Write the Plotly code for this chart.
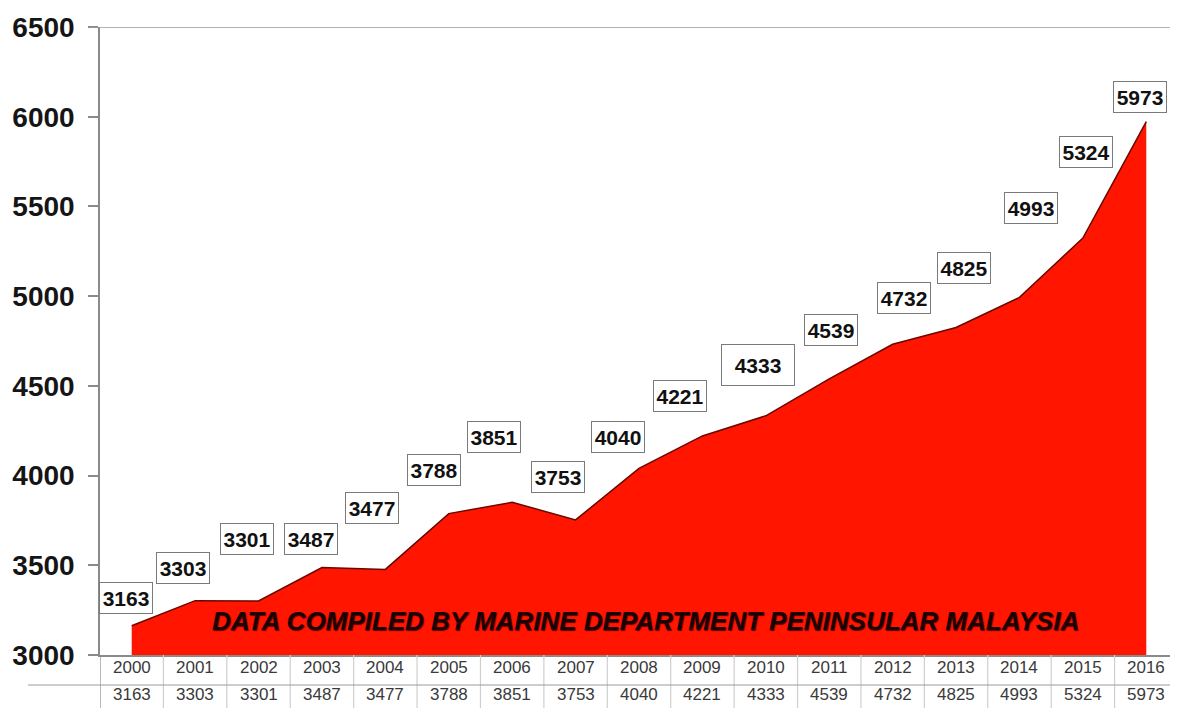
import plotly.graph_objects as go

years = [str(y) for y in range(2000, 2017)]
values = [3163, 3303, 3301, 3487, 3477, 3788, 3851, 3753, 4040, 4221,
          4333, 4539, 4732, 4825, 4993, 5324, 5973]
# label offsets (pixels) relative to each data point
label_dx = [-6, -12, -12, -11, -13, -15, -18, -18, -21, -22, -8, 2, 11, 8, 12, 3, -6]
label_dy = [28, 33, 62, 29, 61, 44, 65, 43, 31, 40, 51, 49, 46, 60, 89, 86, 25]
yticks = [3000, 3500, 4000, 4500, 5000, 5500, 6000, 6500]
note = "DATA COMPILED BY MARINE DEPARTMENT PENINSULAR MALAYSIA"

OFF = 8  # page body margin
W, H = 1178 - OFF, 708 - OFF
ML, MR, MT, MB = 100 - OFF, 0, 27 - OFF, 53
plot_h = H - MT - MB
plot_w = W - ML - MR
base_y = 655  # reference pixel of plot bottom

fig = go.Figure()
fig.add_trace(go.Scatter(
    x=list(range(len(years))), y=values, mode="lines",
    fill="tozeroy", fillcolor="#ff1500",
    line=dict(color="#6a0800", width=1.5),
    hoverinfo="skip", showlegend=False,
))

annotations = []
for i, v in enumerate(values):
    big = (v == 4333)
    annotations.append(dict(
        x=i, y=v, xref="x", yref="y", text=str(v), showarrow=False,
        xshift=label_dx[i], yshift=label_dy[i],
        font=dict(family="Liberation Sans, Arial", size=21, color="#111", weight="bold"),
        bgcolor="white", bordercolor="#7a7a7a", borderwidth=1, borderpad=1,
        width=70 if big else 50, height=38 if big else 28,
    ))

# data table text
row1_y = -(667 - base_y) / plot_h
row2_y = -(694 - base_y) / plot_h
for i, (yr, v) in enumerate(zip(years, values)):
    annotations.append(dict(x=i, y=row1_y, xref="x", yref="paper", text=yr,
                            showarrow=False, yanchor="middle",
                            font=dict(family="Liberation Sans, Arial", size=17, color="#3a3a3a")))
    annotations.append(dict(x=i, y=row2_y, xref="x", yref="paper", text=str(v),
                            showarrow=False, yanchor="middle",
                            font=dict(family="Liberation Sans, Arial", size=17, color="#3a3a3a")))

annotations.append(dict(
    x=(645 - 100) / plot_w, y=(base_y - 621) / plot_h, xref="paper", yref="paper",
    xanchor="center", yanchor="middle",
    text=note, showarrow=False,
    font=dict(family="Liberation Sans, Arial", size=26, color="#1a0202", weight="bold",
              style="italic", shadow="1px 1px 1px #5a0000"),
))

shapes = []
bottom = -MB / plot_h
for i in range(len(years) + 1):
    shapes.append(dict(type="line", xref="x", yref="paper", x0=i - 0.5, x1=i - 0.5,
                       y0=0, y1=bottom,
                       line=dict(color="#8a8a8a" if i == 0 else "#cfcfcf", width=1.2)))
mid = -(685 - base_y) / plot_h
shapes.append(dict(type="line", xref="paper", yref="paper", x0=(28 - 100) / plot_w, x1=1,
                   y0=mid, y1=mid, line=dict(color="#9a9a9a", width=1)))
shapes.append(dict(type="line", xref="paper", yref="y", x0=-10 / plot_w, x1=1,
                   y0=yticks[-1], y1=yticks[-1], line=dict(color="#9a9a9a", width=1.5)))

fig.update_layout(
    width=W, height=H,
    margin=dict(l=ML, r=MR, t=MT, b=MB),
    paper_bgcolor="white", plot_bgcolor="white",
    xaxis=dict(range=[-0.5, len(years) - 0.5], showticklabels=False, showgrid=False,
               zeroline=False, showline=True, linecolor="#8a8a8a", linewidth=1.5, fixedrange=True),
    yaxis=dict(range=[yticks[0], yticks[-1]], tickvals=yticks, showgrid=False, zeroline=False,
               showline=True, linecolor="#8a8a8a", linewidth=1.5,
               ticks="outside", ticklen=10, tickcolor="#8a8a8a", tickwidth=1.5,
               tickfont=dict(family="Liberation Sans, Arial", size=28, color="#151515", weight="bold"),
               ticklabelstandoff=8, automargin=False),
    annotations=annotations, shapes=shapes,
)

fig.write_html("out.html")
